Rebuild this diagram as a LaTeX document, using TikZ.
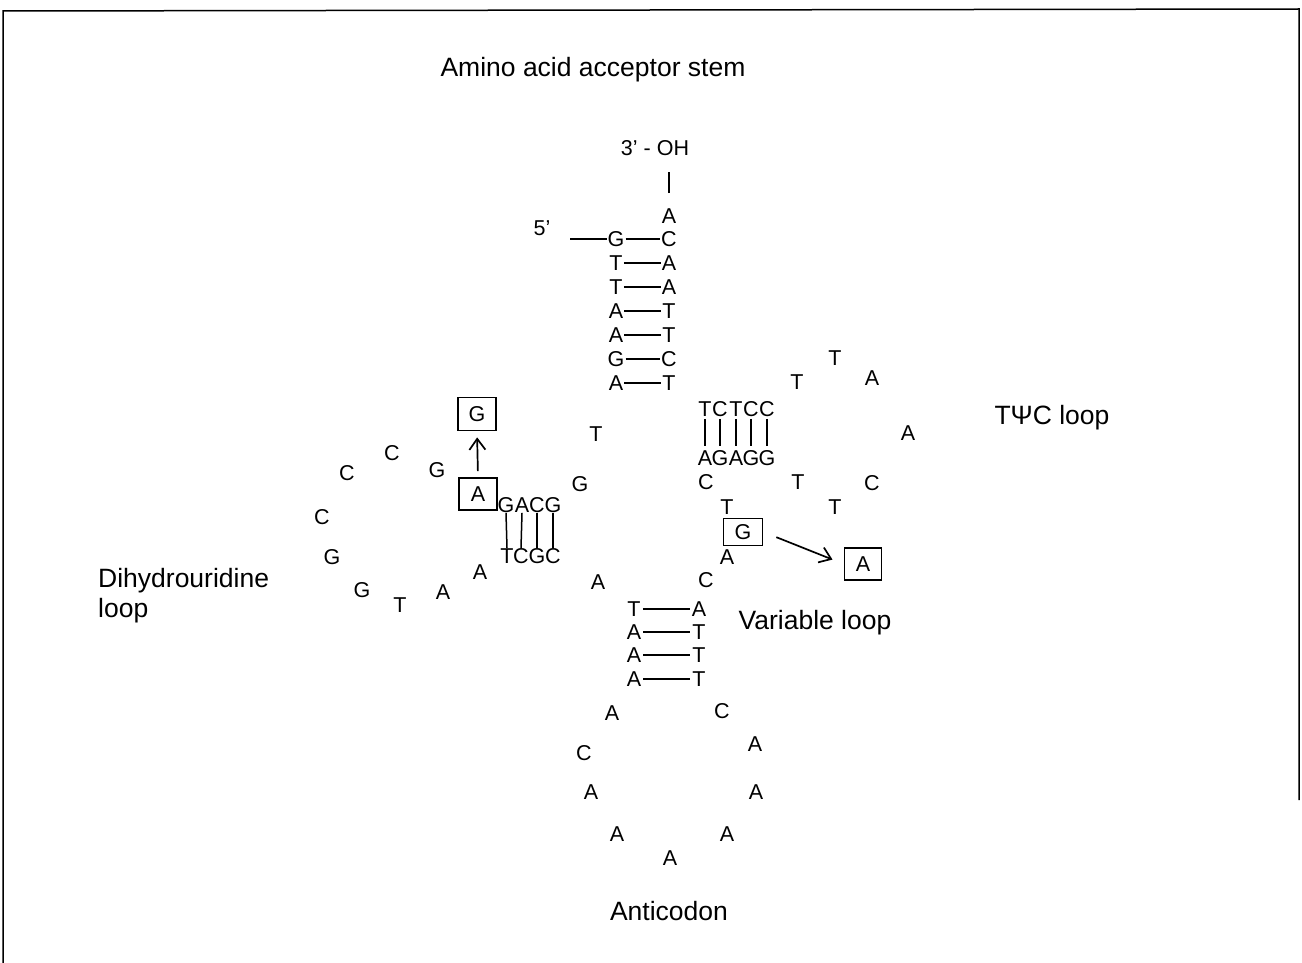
\documentclass[tikz,border=0pt]{standalone}
\usepackage{fontspec}
\setmainfont{Liberation Sans}
\usetikzlibrary{arrows.meta}
\begin{document}
\begin{tikzpicture}[x=1pt,y=-1pt,
 base/.style={font=\fontsize{21.5}{24}\selectfont, inner sep=0pt, text height=15.4pt, text depth=0pt},
 lab/.style={font=\fontsize{26.5}{30}\selectfont, inner sep=0pt, text height=19pt, text depth=0pt},
 boxed/.style={base, draw, line width=1.7pt, minimum width=38pt, minimum height=32pt},
 bond/.style={line width=1.5pt},
 frame/.style={line width=1.5pt},
 arr/.style={line width=1.7pt, -{Straight Barb[length=11pt,width=16pt,line width=1.7pt]}}]
\useasboundingbox (0,0) rectangle (1302,963);
% frame
\draw[frame] (3,963) -- (3,11) -- (1299,9) -- (1299,800);
% labels
\node[lab] (ttl) at (593,67) {Amino acid acceptor stem};
\node[lab] (tpc) at (1052,415) {T\char"03A8 C loop};
\node[lab,anchor=west] (dih1) at (98,578) {Dihydrouridine};
\node[lab,anchor=west] (dih2) at (98,608) {loop};
\node[lab] (var) at (815,620) {Variable loop};
\node[lab] (ant) at (669,911) {Anticodon};
% acceptor stem
\node[base] (oh) at (655,148) {3’ - OH};
\node[base] (a0) at (669,216) {A};
\draw[bond,shorten <=15pt,shorten >=16pt] (a0.north) -- (a0.north |- oh.south);
\node[base] (p5) at (542,228) {5’};
\foreach \l/\r/\y [count=\i] in {G/C/239,T/A/263,T/A/287,A/T/311,A/T/335,G/C/359,A/T/383}{
  \node[base] (al\i) at (616,\y) {\l};
  \node[base] (ar\i) at (669,\y) {\r};
  \draw[bond,shorten <=1pt,shorten >=1pt] (al\i.east) -- (ar\i.west);
}
\coordinate (c5) at (570,239);
\draw[bond] (c5) -- (al1.west);
% junction
\node[base] (j1) at (596,434) {T};
\node[base] (j2) at (580,484) {G};
\node[base] (j3) at (598,582) {A};
% D stem
\foreach \t/\b/\xt/\xb [count=\i] in {G/T/506/507,A/C/522/521,C/G/537/537,G/C/553/553}{
  \node[base] (dt\i) at (\xt,505) {\t};
  \node[base] (db\i) at (\xb,556) {\b};
  \draw[bond] (dt\i.south) -- (db\i.north);
}
% D loop
\foreach \c/\x/\y [count=\i] in {G/437/470,C/392/453,C/347/473,C/322/517,G/332/557,G/362/590,T/400/605,A/443/592,A/480/572}{
  \node[base] (dl\i) at (\x,\y) {\c};
}
\node[boxed] (dA) at (478,494) {A};
\node[boxed,minimum height=33pt] (dG) at (477,414) {G};
\draw[arr,shorten <=6pt,shorten >=6pt] (dA.north) -- (dG.south);
% anticodon stem
\foreach \l/\r/\y [count=\i] in {T/A/609,A/T/632,A/T/655,A/T/679}{
  \node[base] (cl\i) at (634,\y) {\l};
  \node[base] (cr\i) at (699,\y) {\r};
  \draw[bond,shorten <=2pt,shorten >=2pt] (cl\i.east) -- (cr\i.west);
}
% anticodon loop
\foreach \c/\x/\y [count=\i] in {A/612/713,C/584/753,A/591/792,A/617/834,A/670/858,A/727/834,A/756/792,A/755/744,C/722/711}{
  \node[base] (al\i x) at (\x,\y) {\c};
}
% variable loop
\node[base] (v1) at (706,580) {C};
\node[base] (v2) at (727,557) {A};
\node[boxed,minimum width=39pt,minimum height=27pt] (vG) at (743,532) {G};
\node[base] (v3) at (727,507) {T};
\node[base] (v4) at (706,482) {C};
\node[boxed,minimum width=37pt] (vA) at (863,564) {A};
\draw[arr,shorten <=14pt,shorten >=12pt] (vG.east) -- (vA.west);
% T stem
\foreach \t/\b/\x [count=\i] in {T/A/705,C/G/720,T/A/736,C/G/751,C/G/767}{
  \node[base] (tt\i) at (\x,409) {\t};
  \node[base] (tb\i) at (\x,458) {\b};
  \draw[bond,shorten <=2pt,shorten >=4pt] (tt\i.south) -- (tb\i.north);
}
% T loop
\foreach \c/\x/\y [count=\i] in {T/797/382,T/835/358,A/872/378,A/908/433,C/872/483,T/835/507,T/798/482}{
  \node[base] (tl\i) at (\x,\y) {\c};
}
\end{tikzpicture}
\end{document}
